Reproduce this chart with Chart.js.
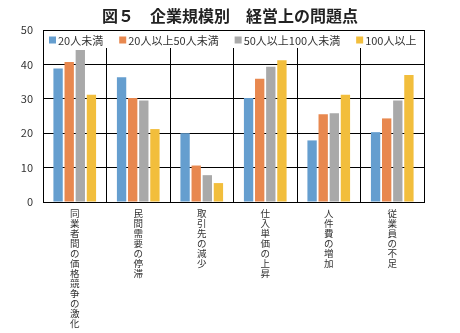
<!DOCTYPE html>
<html lang="ja">
<head>
<meta charset="utf-8">
<script src="https://cdn.jsdelivr.net/npm/chart.js@4.4.0/dist/chart.umd.min.js"></script>
<style>
  html, body { margin: 0; padding: 0; background: #fff; }
  #wrap { width: 460px; height: 333px; position: relative; }
</style>
</head>
<body>
<div id="wrap"><canvas id="chart"></canvas></div>
<script>
// ── Data ─────────────────────────────────────────────
const categories = ['同業者間の価格競争の激化', '民間需要の停滞', '取引先の減少', '仕入単価の上昇', '人件費の増加', '従業員の不足'];
const seriesNames = ['20人未満', '20人以上50人未満', '50人以上100人未満', '100人以上'];
const under20     = [38.8, 36.3, 20.0, 30.2, 17.9, 20.3];
const from20to50  = [40.7, 30.2, 10.6, 35.8, 25.5, 24.3];
const from50to100 = [44.2, 29.5, 7.8, 39.3, 25.8, 29.5];
const over100     = [31.2, 21.2, 5.5, 41.2, 31.2, 36.9];
const yTicks = [0, 10, 20, 30, 40, 50];

const colors = ['#659ECF', '#E8884F', '#A9A9A9', '#F2BE3C'];
const FONT = '"Noto Sans CJK JP", "Noto Sans", sans-serif';

// vertical labels: one character per line
const verticalLabels = categories.map(c => Array.from(c));

// ── Legend drawn inside the plot area ───────────────
const innerLegend = {
  id: 'innerLegend',
  beforeDatasetsDraw(chart) {
    const { ctx, chartArea: a } = chart;
    ctx.save();
    ctx.fillStyle = '#fff';
    ctx.fillRect(a.left + 1, a.top + 1, a.right - a.left - 2, 17);
    ctx.font = '11px ' + FONT;
    ctx.textBaseline = 'middle';
    let x = a.left + 6;
    const y = a.top + 10;
    chart.data.datasets.forEach(ds => {
      ctx.fillStyle = ds.backgroundColor;
      ctx.fillRect(x, y - 3.5, 7, 7);
      ctx.fillStyle = '#333';
      ctx.fillText(ds.label, x + 9, y + 0.5);
      x += 9 + ctx.measureText(ds.label).width + 16;
    });
    ctx.restore();
  }
};

const datasets = [under20, from20to50, from50to100, over100].map((vals, i) => ({
  label: seriesNames[i],
  data: vals,
  backgroundColor: colors[i],
  borderWidth: 0,
  categoryPercentage: 0.7,
  barPercentage: 0.84,
}));

new Chart(document.getElementById('chart'), {
  type: 'bar',
  data: { labels: verticalLabels, datasets },
  plugins: [innerLegend],
  options: {
    responsive: true,
    maintainAspectRatio: false,
    animation: false,
    layout: { padding: 0 },
    plugins: {
      legend: { display: false },
      tooltip: { enabled: false },
      title: {
        display: true,
        text: '図５　企業規模別　経営上の問題点',
        color: '#222',
        font: { family: FONT, size: 16, weight: 'bold', lineHeight: 1 },
        padding: { top: 8, bottom: 6 },
      },
    },
    scales: {
      x: {
        grid: { display: true, offset: true, color: '#000', lineWidth: 1, drawTicks: false },
        border: { color: '#000' },
        ticks: {
          autoSkip: false, maxRotation: 0, minRotation: 0, padding: 6,
          color: '#333', font: { family: FONT, size: 9.5, lineHeight: 1.06 },
        },
        afterFit: s => { s.height = 131; },
      },
      y: {
        min: 0, max: 50,
        afterBuildTicks: s => { s.ticks = yTicks.map(v => ({ value: v })); },
        grid: { color: '#000', lineWidth: 1, drawTicks: false },
        border: { display: false },
        ticks: { padding: 10, color: '#333', font: { family: FONT, size: 11 } },
        afterFit: s => { s.width = 43; },
      },
      // empty right axis, only keeps the right margin so the title stays centred
      yRight: {
        position: 'right',
        grid: { display: false },
        border: { display: false },
        ticks: { display: false },
        afterFit: s => { s.width = 36; },
      },
    },
  },
});
</script>
</body>
</html>
